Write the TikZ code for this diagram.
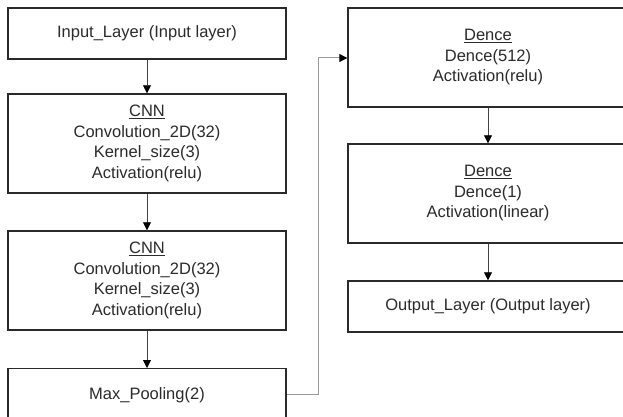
\documentclass[tikz,border=0pt]{standalone}
\usepackage{fontspec}
\setmainfont{Liberation Sans}
\usetikzlibrary{arrows.meta}
\definecolor{txt}{HTML}{2B2B2B}
\definecolor{bord}{HTML}{2A2A2A}
\definecolor{conn}{HTML}{444444}
\definecolor{lconn}{HTML}{9A9A9A}
\begin{document}
\begin{tikzpicture}[x=1pt,y=-1pt,
  layer/.style={draw=bord,line width=1.4pt,fill=white,text=txt,align=center,
    inner sep=0pt,font=\fontsize{16.5}{20.5}\selectfont},
  flow/.style={draw=conn,line width=0.8pt,-{Triangle[length=8pt,width=8pt,color=black,fill=black]}},
  link/.style={draw=lconn,line width=1pt,-{Triangle[length=8pt,width=8pt,color=black,fill=black]}}]
\useasboundingbox (0,0) rectangle (623,417);
\clip (0,0) rectangle (623,417);
\fill[white] (0,0) rectangle (623,417);
% left column
\node[layer,minimum width=278pt,minimum height=51pt] (in) at (147,33.5) {Input\_Layer (Input layer)};
\node[layer,minimum width=278pt,minimum height=99pt] (c1) at (147,143.5) {\underline{CNN}\\Convolution\_2D(32)\\Kernel\_size(3)\\Activation(relu)};
\node[layer,minimum width=278pt,minimum height=99pt] (c2) at (147,280.5) {\underline{CNN}\\Convolution\_2D(32)\\Kernel\_size(3)\\Activation(relu)};
\node[layer,minimum width=278pt,minimum height=54pt,anchor=north] (mp) at (147,368) {Max\_Pooling(2)};
% right column
\node[layer,minimum width=280pt,minimum height=99pt] (d1) at (488,57.5) {\underline{Dence}\\Dence(512)\\Activation(relu)};
\node[layer,minimum width=280pt,minimum height=99pt] (d2) at (488,193.5) {\underline{Dence}\\Dence(1)\\Activation(linear)};
\node[layer,minimum width=280pt,minimum height=51pt] (out) at (488,306.5) {Output\_Layer (Output layer)};
% connectors
\draw[flow] (in) -- (c1);
\draw[flow] (c1) -- (c2);
\draw[flow] (c2) -- (mp);
\draw[flow] (d1) -- (d2);
\draw[flow] (d2) -- (out);
\coordinate (b1) at (318,394);
\coordinate (b2) at (318,58);
\draw[link] (mp.east |- b1) -- (b1) -- (b2) -- (d1.west |- b2);
\end{tikzpicture}
\end{document}
